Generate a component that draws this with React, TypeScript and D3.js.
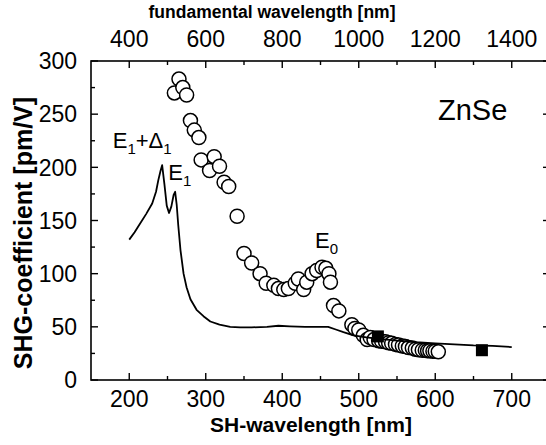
import React from "react";
import * as d3 from "d3";

const W = 546;
const H = 445;
const MARGIN = { top: 61, right: -4, bottom: 65, left: 91 };
const FONT = "'Liberation Sans', Arial, Helvetica, sans-serif";

// calculated SHG coefficient (solid line): [SH wavelength nm, pm/V]
const theoryCurve: [number, number][] = [
  [200, 132], [207, 139], [214, 147], [222, 156], [230, 166], [235, 177],
  [238, 188], [241, 197], [243, 202], [246, 184], [249, 164], [252, 157],
  [255, 163], [258, 174], [260, 177], [262, 165], [264, 146], [267, 122],
  [271, 100], [275, 87], [280, 76], [288, 66], [297, 60], [306, 55],
  [318, 52], [332, 50], [345, 49.5], [360, 49.5], [380, 50], [395, 51],
  [410, 50.5], [430, 50], [450, 50], [460, 50], [470, 47.5], [480, 45],
  [493, 42], [510, 40], [530, 38.5], [550, 37], [575, 35.5], [600, 34.5],
  [625, 33.5], [650, 32.5], [675, 32], [700, 31],
];

// measured values (open circles)
const measured: [number, number][] = [
  [259, 270], [265, 283], [270, 275], [275, 268], [280, 244], [285, 235],
  [291, 228], [294, 207], [305, 197], [311, 210], [318, 201], [324, 186],
  [330, 182], [341, 154], [350, 119], [360, 110], [371, 100], [379, 91],
  [389, 89], [395, 86], [402, 85], [408, 86], [417, 91], [421, 95],
  [428, 85], [432, 92], [439, 100], [445, 103], [452, 106], [457, 105],
  [461, 100], [463, 92], [467, 70], [474, 65], [491, 52], [495, 48.5],
  [500, 47], [506, 42], [511, 38], [515, 40], [520, 38], [526, 37],
  [530, 36.5], [535, 36], [539, 35], [543, 34.5], [548, 33.5], [552, 33],
  [557, 32], [561, 31.5], [565, 30.5], [570, 30], [574, 29], [578, 28.5],
  [583, 28], [587, 28], [590, 27.5], [593, 27.5], [597, 27], [600, 27],
  [604, 26.5],
];

// filled squares
const squares: [number, number][] = [
  [525, 41],
  [661, 28],
];

const xTicks = [200, 300, 400, 500, 600, 700];
const xMinor = [250, 350, 450, 550, 650];
const yTicks = [0, 50, 100, 150, 200, 250, 300];
const yMinor = [25, 75, 125, 175, 225, 275];
const topTicks = [400, 600, 800, 1000, 1200, 1400];
const topMinor = [500, 700, 900, 1100, 1300];

export default function App() {
  const x = d3
    .scaleLinear()
    .domain([150, 750])
    .range([MARGIN.left, W - MARGIN.right]);
  const y = d3
    .scaleLinear()
    .domain([0, 300])
    .range([H - MARGIN.bottom, MARGIN.top]);
  // top axis: fundamental = 2 x SH wavelength
  const xTop = d3
    .scaleLinear()
    .domain([300, 1500])
    .range([MARGIN.left, W - MARGIN.right]);

  const line = d3
    .line<[number, number]>()
    .x((d) => x(d[0]))
    .y((d) => y(d[1]));

  const x0 = x.range()[0];
  const x1 = x.range()[1];
  const y0 = y.range()[0];
  const y1 = y.range()[1];
  const MAJ = 7;
  const MIN = 4;
  const sq = 12;

  return (
    <svg
      width={W}
      height={H}
      style={{ position: "absolute", left: 0, top: 0, background: "#fff" }}
      fontFamily={FONT}
    >
      <rect width={W} height={H} fill="#fff" />
      {/* frame */}
      <rect
        x={x0}
        y={y1}
        width={x1 - x0}
        height={y0 - y1}
        fill="none"
        stroke="#000"
        strokeWidth={1.6}
      />

      {/* bottom + top ticks */}
      {xTicks.map((t) => (
        <g key={"xb" + t}>
          <line x1={x(t)} x2={x(t)} y1={y0} y2={y0 - MAJ} stroke="#000" strokeWidth={1.4} />
          <text x={x(t)} y={407} fontSize={23} textAnchor="middle">
            {t}
          </text>
        </g>
      ))}
      {xMinor.map((t) => (
        <line key={"xm" + t} x1={x(t)} x2={x(t)} y1={y0} y2={y0 - MIN} stroke="#000" strokeWidth={1.4} />
      ))}
      {topTicks.map((t) => (
        <g key={"xt" + t}>
          <line x1={xTop(t)} x2={xTop(t)} y1={y1} y2={y1 + MAJ} stroke="#000" strokeWidth={1.4} />
          <text x={xTop(t)} y={47} fontSize={23} textAnchor="middle">
            {t}
          </text>
        </g>
      ))}
      {topMinor.map((t) => (
        <line key={"tm" + t} x1={xTop(t)} x2={xTop(t)} y1={y1} y2={y1 + MIN} stroke="#000" strokeWidth={1.4} />
      ))}

      {/* left + right ticks */}
      {yTicks.map((t) => (
        <g key={"y" + t}>
          <line x1={x0} x2={x0 + MAJ} y1={y(t)} y2={y(t)} stroke="#000" strokeWidth={1.4} />
          <line x1={x1} x2={x1 - MAJ} y1={y(t)} y2={y(t)} stroke="#000" strokeWidth={1.4} />
          <text x={77} y={y(t)} dy="0.36em" fontSize={23} textAnchor="end">
            {t}
          </text>
        </g>
      ))}
      {yMinor.map((t) => (
        <g key={"ym" + t}>
          <line x1={x0} x2={x0 + MIN} y1={y(t)} y2={y(t)} stroke="#000" strokeWidth={1.4} />
          <line x1={x1} x2={x1 - MIN} y1={y(t)} y2={y(t)} stroke="#000" strokeWidth={1.4} />
        </g>
      ))}

      {/* axis titles */}
      <text x={272} y={18} fontSize={17.5} fontWeight="bold" textAnchor="middle">
        fundamental wavelength [nm]
      </text>
      <text x={311} y={432} fontSize={21} fontWeight="bold" textAnchor="middle">
        SH-wavelength [nm]
      </text>
      <text
        transform="translate(32,233) rotate(-90)"
        fontSize={25}
        fontWeight="bold"
        textAnchor="middle"
      >
        SHG-coefficient [pm/V]
      </text>

      {/* measured points */}
      {measured.map((d, i) => (
        <circle
          key={"c" + i}
          cx={x(d[0])}
          cy={y(d[1])}
          r={7}
          fill="#fff"
          stroke="#000"
          strokeWidth={1.5}
        />
      ))}

      {/* theory curve */}
      <path d={line(theoryCurve) ?? ""} fill="none" stroke="#000" strokeWidth={1.8} strokeLinejoin="round" />

      {squares.map((d, i) => (
        <rect key={"s" + i} x={x(d[0]) - sq / 2} y={y(d[1]) - sq / 2} width={sq} height={sq} fill="#000" />
      ))}

      {/* labels */}
      <text x={x(603.6)} y={y(244.5)} fontSize={29}>
        ZnSe
      </text>
      <text x={x(178.4)} y={y(218)} fontSize={22}>
        E<tspan fontSize={15} dy={6}>1</tspan>
        <tspan dy={-6}>+Δ</tspan>
        <tspan fontSize={15} dy={6}>1</tspan>
      </text>
      <text x={x(251)} y={y(188)} fontSize={22}>
        E<tspan fontSize={15} dy={6}>1</tspan>
      </text>
      <text x={x(442.8)} y={y(124)} fontSize={22}>
        E<tspan fontSize={15} dy={6}>0</tspan>
      </text>
    </svg>
  );
}
